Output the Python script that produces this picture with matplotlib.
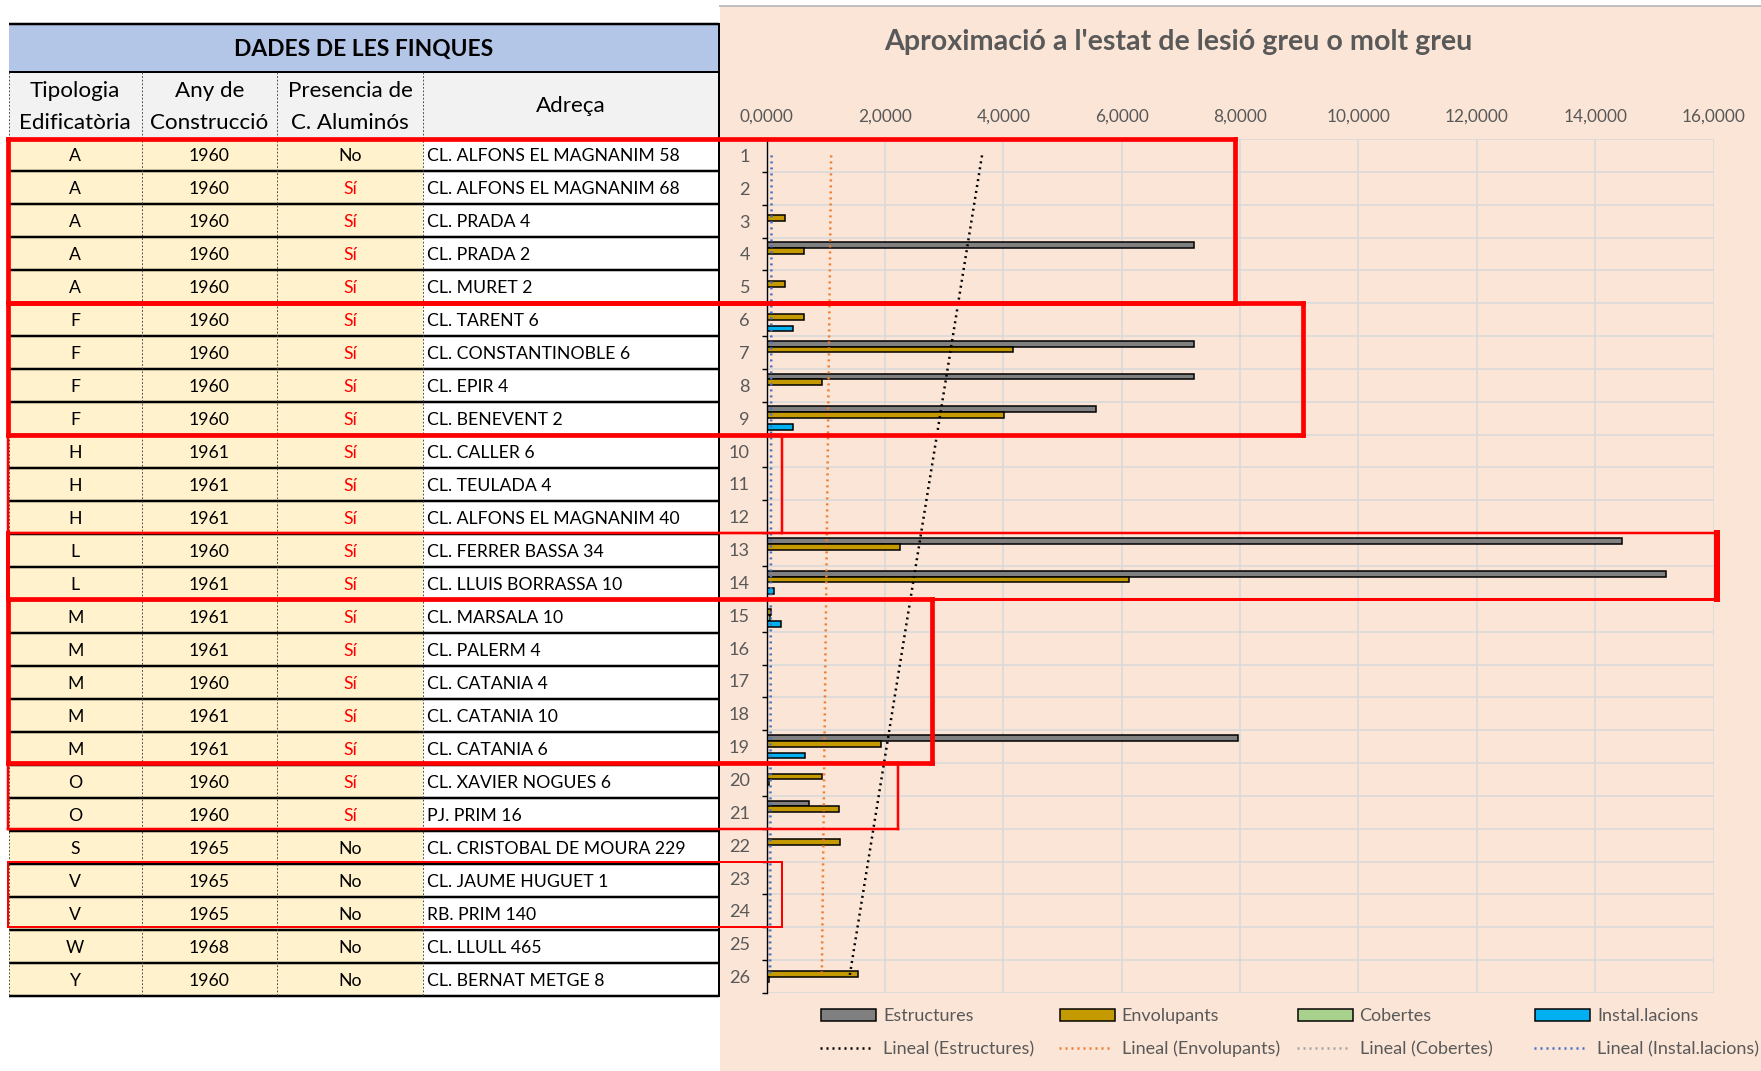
import numpy as np
import matplotlib
matplotlib.use('Agg')
import matplotlib.pyplot as plt
from matplotlib.patches import Rectangle
from matplotlib.ticker import FixedLocator, FuncFormatter

plt.rcParams['font.family'] = ['Lato', 'DejaVu Sans']

# ---------------- data ----------------
finques = list(range(1, 27))
tipologia = ['A', 'A', 'A', 'A', 'A', 'F', 'F', 'F', 'F', 'H', 'H', 'H', 'L', 'L',
             'M', 'M', 'M', 'M', 'M', 'O', 'O', 'S', 'V', 'V', 'W', 'Y']
any_constr = [1960, 1960, 1960, 1960, 1960, 1960, 1960, 1960, 1960, 1961, 1961, 1961,
              1960, 1961, 1961, 1961, 1960, 1961, 1961, 1960, 1960, 1965, 1965, 1965,
              1968, 1960]
aluminos = ['No'] + ['Sí'] * 20 + ['No'] * 5
adreca = ['CL. ALFONS EL MAGNANIM 58', 'CL. ALFONS EL MAGNANIM 68', 'CL. PRADA 4',
          'CL. PRADA 2', 'CL. MURET 2', 'CL. TARENT 6', 'CL. CONSTANTINOBLE 6',
          'CL. EPIR 4', 'CL. BENEVENT 2', 'CL. CALLER 6', 'CL. TEULADA 4',
          'CL. ALFONS EL MAGNANIM 40', 'CL. FERRER BASSA 34', 'CL. LLUIS BORRASSA 10',
          'CL. MARSALA 10', 'CL. PALERM 4', 'CL. CATANIA 4', 'CL. CATANIA 10',
          'CL. CATANIA 6', 'CL. XAVIER NOGUES 6', 'PJ. PRIM 16',
          'CL. CRISTOBAL DE MOURA 229', 'CL. JAUME HUGUET 1', 'RB. PRIM 140',
          'CL. LLULL 465', 'CL. BERNAT METGE 8']

series_names = ['Estructures', 'Envolupants', 'Cobertes', 'Instal.lacions']
estructures = [0, 0, 0, 7.23, 0, 0, 7.23, 7.23, 5.56, 0, 0, 0, 14.46, 15.19,
               0, 0, 0, 0, 7.96, 0, 0.72, 0, 0, 0, 0, 0]
envolupants = [0, 0, 0.31, 0.64, 0.31, 0.64, 4.17, 0.93, 4.01, 0, 0, 0, 2.26, 6.13,
               0.07, 0, 0, 0, 1.94, 0.93, 1.22, 1.24, 0, 0, 0, 1.55]
cobertes = [0, 0, 0, 0, 0, 0, 0, 0, 0, 0, 0, 0, 0, 0,
            0.06, 0, 0, 0, 0, 0.05, 0, 0, 0, 0, 0, 0.05]
instalacions = [0, 0, 0, 0, 0, 0.45, 0, 0, 0.45, 0, 0, 0, 0, 0.13,
                0.25, 0, 0, 0, 0.65, 0, 0, 0, 0, 0, 0, 0]
x_ticks = [0, 2, 4, 6, 8, 10, 12, 14, 16]

table_title = 'DADES DE LES FINQUES'
col_headers = [('Tipologia', 'Edificatòria'), ('Any de', 'Construcció'),
               ('Presencia de', 'C. Aluminós'), ('Adreça',)]
chart_title = "Aproximació a l'estat de lesió greu o molt greu"

# highlighted groups: first row, last row, right end (value units), side widths px (top,right,bottom,left)
groups = [(1, 5, 7.91, (4.7, 4.7, 4.7, 4.7)),
          (6, 9, 9.06, (4.7, 4.7, 4.7, 4.7)),
          (10, 12, 0.26, (2.2, 2.5, 2.2, 2.5)),
          (13, 14, 16.06, (2.5, 6.0, 3.0, 4.0)),
          (15, 19, 2.79, (4.7, 4.7, 4.7, 4.7)),
          (20, 21, 2.22, (2.5, 2.5, 2.5, 2.5)),
          (23, 24, 0.26, (2.0, 2.0, 2.0, 2.0))]

# ---------------- style ----------------
bar_colors = ['#808080', '#C49A00', '#A9D18E', '#00B0F0']
trend_colors = ['#000000', '#ED7D31', '#A5A5A5', '#4472C4']
GREY_TXT = '#595959'
GRID = '#D9D9D9'
CHART_BG = '#FBE5D6'

W, H, DPI = 1761, 1071, 100
PT = 72.0 / DPI
AX_L, AX_R, AX_T, AX_B = 766.5, 1713.5, 139.0, 993.0
T0, RH_T = 138.0, 33.0
COLS = [9, 141.5, 277, 423, 719]

fig = plt.figure(figsize=(W / DPI, H / DPI), dpi=DPI, facecolor='white')
renderer = fig.canvas.get_renderer()


def fit(txt, target, weight='normal'):
    t = fig.text(0, 0, txt, fontsize=20, weight=weight)
    w = t.get_window_extent(renderer=renderer).width
    t.remove()
    return 20.0 * target / w


def cap(fs):
    return 0.7165 * fs / PT


fs_title = fit(chart_title, 587, 'bold')
fs_ttitle = fit(table_title, 259, 'bold')
fs_data = fit('CL. ALFONS EL MAGNANIM 58', 252)
fs_head = fit('Construcció', 118)
fs_tick = fit('16,0000', 64)
fs_leg = fit('Lineal (Estructures)', 151)

# background layer
bg = fig.add_axes([0, 0, 1, 1], zorder=0)
bg.set_xlim(0, W); bg.set_ylim(H, 0); bg.axis('off')

bg.add_patch(Rectangle((720, 6), W - 720, H - 6, facecolor=CHART_BG, edgecolor='none'))
bg.plot([720, W], [6, 6], color='#BFBFBF', lw=2 * PT)

# table
bg.add_patch(Rectangle((COLS[0], 24), COLS[-1] - COLS[0], 48, facecolor='#B4C6E7', edgecolor='none'))
bg.add_patch(Rectangle((COLS[0], 72), COLS[-1] - COLS[0], T0 - 72, facecolor='#F2F2F2', edgecolor='none'))
n = len(finques)
for i in range(n):
    top = T0 + i * RH_T
    bg.add_patch(Rectangle((COLS[0], top), COLS[3] - COLS[0], RH_T, facecolor='#FFF2CC', edgecolor='none'))
    bg.add_patch(Rectangle((COLS[3], top), COLS[4] - COLS[3], RH_T, facecolor='white', edgecolor='none'))
    base = top + RH_T / 2 + cap(fs_data) / 2
    bg.text((COLS[0] + COLS[1]) / 2, base, tipologia[i], ha='center', va='baseline', fontsize=fs_data, color='black')
    bg.text((COLS[1] + COLS[2]) / 2, base, str(any_constr[i]), ha='center', va='baseline', fontsize=fs_data, color='black')
    bg.text((COLS[2] + COLS[3]) / 2, base, aluminos[i], ha='center', va='baseline', fontsize=fs_data,
            color='#FF0000' if aluminos[i] == 'Sí' else 'black')
    bg.text(COLS[3] + 4, base, adreca[i], ha='left', va='baseline', fontsize=fs_data, color='black')
    if i > 0:
        bg.plot([COLS[0], COLS[-1]], [top, top], color='black', lw=2.5 * PT, solid_capstyle='butt')
T_END = T0 + n * RH_T
bg.plot([COLS[0], COLS[-1]], [T_END, T_END], color='black', lw=2.5 * PT, solid_capstyle='butt')
bg.plot([COLS[0], COLS[-1]], [24, 24], color='black', lw=2.5 * PT, solid_capstyle='butt')
bg.plot([COLS[0], COLS[-1]], [72, 72], color='black', lw=2.0 * PT, solid_capstyle='butt')
for cx in COLS[:4]:
    bg.plot([cx, cx], [72, T_END], color='#404040', lw=0.9 * PT, ls=(0, (2, 2)))
bg.plot([COLS[-1], COLS[-1]], [24, T_END], color='black', lw=2.0 * PT)

bg.text((COLS[0] + COLS[-1]) / 2, 56, table_title, ha='center', va='baseline',
        fontsize=fs_ttitle, weight='bold', color='black')
for j, hdr in enumerate(col_headers):
    cx = (COLS[j] + COLS[j + 1]) / 2
    if len(hdr) == 2:
        bg.text(cx, 96.7, hdr[0], ha='center', va='baseline', fontsize=fs_head, color='black')
        bg.text(cx, 129.3, hdr[1], ha='center', va='baseline', fontsize=fs_head, color='black')
    else:
        bg.text(cx, 112.0, hdr[0], ha='center', va='baseline', fontsize=fs_head, color='black')

bg.text(1178.5, 50, chart_title, ha='center', va='baseline', fontsize=fs_title,
        weight='bold', color=GREY_TXT)

# chart
ax = fig.add_axes([AX_L / W, 1 - AX_B / H, (AX_R - AX_L) / W, (AX_B - AX_T) / H], zorder=1)
ax.patch.set_alpha(0)
ypos = np.array(finques, dtype=float)
all_series = [estructures, envolupants, cobertes, instalacions]
h = 0.18
offs = [-1.5 * h, -0.5 * h, 0.5 * h, 1.5 * h]
for k, vals in enumerate(all_series):
    ax.barh(ypos + offs[k], vals, height=h, color=bar_colors[k], edgecolor='black',
            linewidth=1.1, zorder=3, label=series_names[k])
trend_style = (0, (0.8, 1.6))
TREND_LW = 1.8
for k, vals in enumerate(all_series):
    coef = np.polyfit(ypos, np.array(vals), 1)
    yy = np.array([ypos[0], ypos[-1]])
    ax.plot(np.polyval(coef, yy), yy, color=trend_colors[k], ls=trend_style, lw=TREND_LW, zorder=4)

ax.set_xlim(x_ticks[0], x_ticks[-1])
ax.set_ylim(n + 0.5, 0.5)
ax.xaxis.set_major_locator(FixedLocator(x_ticks))
ax.xaxis.set_major_formatter(FuncFormatter(lambda v, p: f'{v:.4f}'.replace('.', ',')))
ax.xaxis.tick_top()
ax.tick_params(axis='x', which='both', length=0, pad=10.5, labelsize=fs_tick, labelcolor=GREY_TXT)
ax.set_yticks(ypos)
ax.set_yticklabels([str(f) for f in finques])
ax.set_yticks(np.arange(0.5, n + 1, 1), minor=True)
ax.tick_params(axis='y', which='major', length=0, pad=12, labelsize=fs_tick * 1.05, labelcolor=GREY_TXT)
ax.tick_params(axis='y', which='minor', length=5.5 * PT, width=1.0, direction='out', color='black')
ax.grid(axis='x', which='major', color=GRID, lw=1.6 * PT)
ax.grid(axis='y', which='minor', color=GRID, lw=1.6 * PT)
ax.set_axisbelow(True)
for s in ['top', 'right', 'bottom']:
    ax.spines[s].set_visible(False)
ax.spines['left'].set_color('black')
ax.spines['left'].set_linewidth(1.0)
ax.spines['left'].set_zorder(5)

# top layer: highlight boxes and legend
top = fig.add_axes([0, 0, 1, 1], zorder=2)
top.set_xlim(0, W); top.set_ylim(H, 0); top.axis('off')
top.patch.set_alpha(0)

for first, last, right, (wt, wr, wb, wl) in groups:
    xr, y1 = ax.transData.transform((right, first - 0.5))
    _, y2 = ax.transData.transform((right, last + 0.5))
    y1 = H - y1; y2 = H - y2
    xl = 8.0
    top.plot([xl, xr], [y1, y1], color='#FF0000', lw=wt * PT, solid_capstyle='projecting')
    top.plot([xl, xr], [y2, y2], color='#FF0000', lw=wb * PT, solid_capstyle='projecting')
    top.plot([xr, xr], [y1, y2], color='#FF0000', lw=wr * PT, solid_capstyle='projecting')
    top.plot([xl, xl], [y1, y2], color='#FF0000', lw=wl * PT, solid_capstyle='projecting')

leg_x = [821, 1059.5, 1297.5, 1535]
for k in range(4):
    x0 = leg_x[k]
    top.add_patch(Rectangle((x0, 1009), 55, 12, facecolor=bar_colors[k], edgecolor='black', lw=1.5 * PT))
    top.text(x0 + 62, 1015 + cap(fs_leg) / 2, series_names[k], ha='left', va='baseline',
             fontsize=fs_leg, color=GREY_TXT)
    top.plot([x0 - 1, x0 + 52], [1048, 1048], color=trend_colors[k], ls=trend_style, lw=TREND_LW)
    top.text(x0 + 62, 1048 + cap(fs_leg) / 2, 'Lineal (' + series_names[k] + ')', ha='left',
             va='baseline', fontsize=fs_leg, color=GREY_TXT)

fig.savefig('out.png', dpi=DPI, facecolor='white')
